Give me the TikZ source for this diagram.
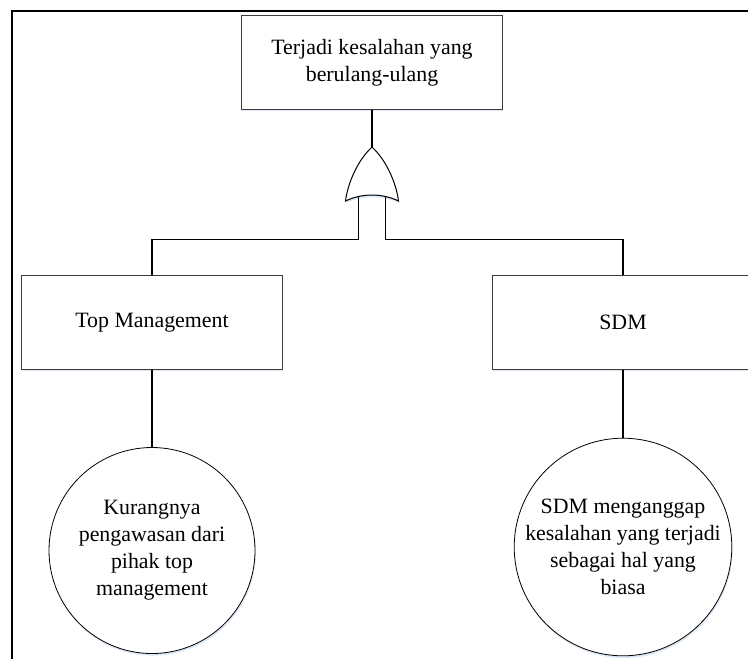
\documentclass[tikz,border=0pt]{standalone}
\usepackage{fontspec}
\setmainfont{Liberation Serif}
\usetikzlibrary{shadows}
\definecolor{boxline}{RGB}{60,60,60}
\definecolor{shade}{RGB}{205,222,242}
\tikzset{
  px/.style={x=0.75pt,y=-0.75pt},
  soft/.style={drop shadow={shadow xshift=0.6pt,shadow yshift=-1.6pt,fill=shade,opacity=0.7}},
  eventbox/.style={draw=boxline,line width=0.8pt,fill=white,soft,
    minimum width=196pt,minimum height=70pt,inner sep=2pt,align=center,
    font=\fontsize{16.4pt}{20.3pt}\selectfont},
  basic/.style={circle,draw=black,line width=0.6pt,fill=white,soft,
    minimum size=154.5pt,inner sep=0pt,align=center,
    font=\fontsize{16.4pt}{20.3pt}\selectfont},
  link/.style={draw=black,line width=1.1pt},
  gateline/.style={draw=black,line width=0.75pt,fill=white,soft},
  frameline/.style={draw=black,line width=1.6pt}
}
\begin{document}
\begin{tikzpicture}[px]
\clip (0,0) rectangle (748,658);
\fill[white] (0,0) rectangle (748,658);
% outer frame
\draw[frameline] (12,660) -- (12,11) -- (750,11);
% events
\node[eventbox] (top) at (372,62.5) {Terjadi kesalahan yang\\berulang-ulang};
\node[eventbox] (tm) at (152,322.5) {Top Management};
\node[eventbox] (sdm) at (623,322.5) {SDM};
\node[basic] (c1) at (152,550.5) {Kurangnya\\pengawasan dari\\pihak top\\management};
\node[basic] (c2) at (623,547) {SDM menganggap\\kesalahan yang terjadi\\sebagai hal yang\\biasa};
% OR gate
\coordinate (gtip) at (372,147);
\coordinate (gin1) at (358.5,196);
\coordinate (gin2) at (385.5,196);
\coordinate (j1) at (358.5,239.5);
\coordinate (j2) at (385.5,239.5);
\draw[link] (top.south) -- (gtip);
\draw[link] (gin1) -- (j1) -| (tm.north);
\draw[link] (gin2) -- (j2) -| (sdm.north);
\path[gateline] (372,147) .. controls (358,160) and (348,182) .. (345.5,201)
  .. controls (362,193) and (382,193) .. (398.5,201)
  .. controls (396,182) and (386,160) .. (372,147) -- cycle;
\draw[link] (gin1) -- (j1);
\draw[link] (gin2) -- (j2);
\draw[link] (tm.south) -- (c1.north);
\draw[link] (sdm.south) -- (c2.north);
\end{tikzpicture}
\end{document}
